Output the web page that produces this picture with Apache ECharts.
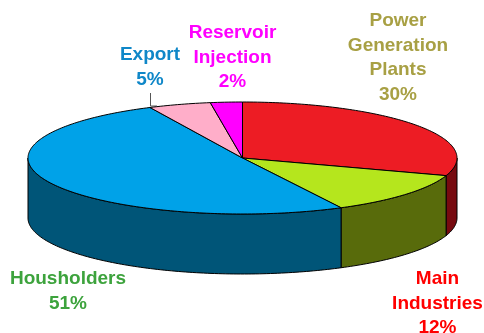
<!DOCTYPE html>
<html>
<head>
<meta charset="utf-8">
<style>html,body{margin:0;padding:0;background:#fff;overflow:hidden}#c{width:484px;height:333px}</style>
<script src="https://cdn.jsdelivr.net/npm/echarts@6/dist/echarts.min.js"></script>
</head>
<body>
<div id="c"></div>
<script>
const categories = ['Power\nGeneration\nPlants', 'Main\nIndustries', 'Housholders', 'Export', 'Reservoir\nInjection'];
const shares = [30.1, 12.3, 50.5, 4.7, 2.4];
const topColors = ['#ED1C24', '#B5E61D', '#00A2E8', '#FFAEC9', '#FF00FF'];
const wallColors = ['#770A10', '#586B0B', '#005578', '#FFAEC9', '#FF00FF'];
const labelColors = ['#A8A044', '#FF0000', '#3DA33D', '#0F87C8', '#FF00FF'];
const labelAnchors = [[398, 9], [437.5, 267], [68, 267], [150, 43], [232.5, 21]];

const total = shares.reduce((a, b) => a + b, 0);
let running = 0;
const rows = shares.map((v, i) => {
  const start = running / total * 360;
  running += v;
  return [start, running / total * 360, i];
});
const DEPTH = 60 / 56; // wall height in units of the ellipse's vertical radius

function rim(from, to) {
  const pts = [];
  const n = Math.max(2, Math.ceil(to - from));
  for (let k = 0; k <= n; k++) {
    const a = (from + (to - from) * k / n) * Math.PI / 180;
    pts.push([Math.sin(a), Math.cos(a)]);
  }
  return pts;
}

const edge = { stroke: '#000', lineWidth: 1, lineJoin: 'round' };

const option = {
  animation: false,
  backgroundColor: '#fff',
  grid: { left: 28, width: 429, top: 102, height: 112 },
  xAxis: { type: 'value', min: -1, max: 1, show: false },
  yAxis: { type: 'value', min: -1, max: 1, show: false },
  series: [
    {
      type: 'custom',
      clip: false,
      data: rows,
      encode: { x: 0, y: 1 },
      renderItem(params, api) {
        const from = Math.max(api.value(0), 90);
        const to = Math.min(api.value(1), 270);
        if (to <= from) return { type: 'group', children: [] };
        const arc = rim(from, to);
        const upper = arc.map(p => api.coord(p));
        const lower = arc.slice().reverse().map(p => api.coord([p[0], p[1] - DEPTH]));
        return {
          type: 'polygon',
          shape: { points: upper.concat(lower) },
          style: Object.assign({ fill: wallColors[api.value(2)] }, edge)
        };
      }
    },
    {
      type: 'custom',
      clip: false,
      data: rows,
      encode: { x: 0, y: 1 },
      z: 3,
      renderItem(params, api) {
        const pts = [api.coord([0, 0])].concat(rim(api.value(0), api.value(1)).map(p => api.coord(p)));
        return {
          type: 'polygon',
          shape: { points: pts },
          style: Object.assign({ fill: topColors[api.value(2)] }, edge)
        };
      }
    }
  ],
  graphic: {
    elements: categories.map((name, i) => ({
      type: 'text',
      x: labelAnchors[i][0],
      y: labelAnchors[i][1],
      z: 10,
      style: {
        text: name + '\n' + Math.round(shares[i]) + '%',
        fill: labelColors[i],
        font: 'bold 19px "Liberation Sans", Arial, sans-serif',
        lineHeight: 24.5,
        align: 'center',
        verticalAlign: 'top'
      }
    })).concat([{
      type: 'polyline',
      z: 2,
      shape: { points: [[150.5, 93], [150.5, 106], [157, 106]] },
      style: { stroke: '#555', lineWidth: 1, fill: null }
    }])
  }
};
echarts.init(document.getElementById('c'), null, { renderer: 'canvas' }).setOption(option);
</script>
</body>
</html>
